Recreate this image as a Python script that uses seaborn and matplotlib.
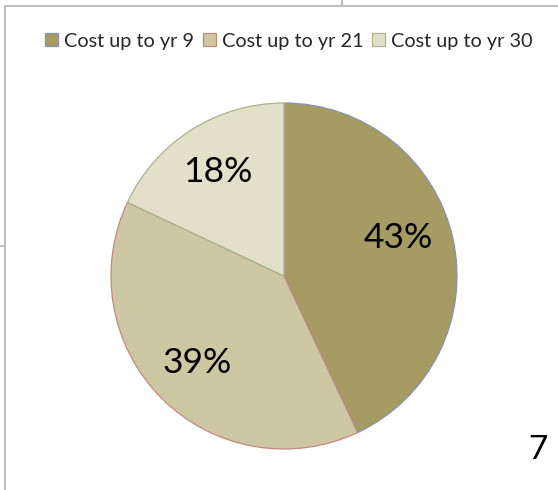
import matplotlib
matplotlib.use("Agg")
import matplotlib.pyplot as plt
from matplotlib.lines import Line2D
import seaborn as sns

# Share of total cost by period
categories = ["Cost up to yr 9", "Cost up to yr 21", "Cost up to yr 30"]
shares = [43, 39, 18]
slice_colors = ["#A59B63", "#CEC7A4", "#E3E0CA"]
edge_colors = ["#8594A8", "#C28A80", "#A8B48C"]
page_number = "7"

sns.set_theme(style="white")
plt.rcParams["font.family"] = ["Lato", "DejaVu Sans"]

W, H = 558, 490
fig = plt.figure(figsize=(W / 100, H / 100), dpi=100)
fig.patch.set_facecolor("white")

# pie placed by pixel centre and radius
cx, cy, r = 284, 276, 173
ax = fig.add_axes([(cx - r) / W, (H - cy - r) / H, 2 * r / W, 2 * r / H])

wedges, texts, autotexts = ax.pie(
    shares,
    colors=slice_colors,
    startangle=90,
    counterclock=False,
    autopct="%1.0f%%",
    pctdistance=0.71,
    radius=1.0,
    wedgeprops=dict(linewidth=0.9),
    textprops=dict(fontsize=25.5, color="black"),
)
for w, ec in zip(wedges, edge_colors):
    w.set_edgecolor(ec)
# the largest label sits a little higher, clear of the slice midline
autotexts[0].set_position((0.66, 0.22))
ax.set_xlim(-1.0, 1.0)
ax.set_ylim(-1.0, 1.0)
ax.set_aspect("equal")
ax.axis("off")

# legend across the top
fig.legend(
    wedges,
    categories,
    loc="center",
    bbox_to_anchor=(289 / W, 1 - 41 / H),
    ncol=3,
    frameon=False,
    fontsize=14.3,
    handlelength=0.65,
    handleheight=0.65,
    handletextpad=0.3,
    columnspacing=0.45,
)

# slide frame edges
line_kw = dict(color="#BFBFBF", linewidth=1.5, transform=fig.transFigure)
fig.add_artist(Line2D([4.5 / W, 1.0], [1 - 6.5 / H, 1 - 6.5 / H], **line_kw))
fig.add_artist(Line2D([4.5 / W, 4.5 / W], [1 - 6.5 / H, 0.0], **line_kw))
fig.add_artist(Line2D([0.0, 4.5 / W], [1 - 246 / H, 1 - 246 / H], **line_kw))
fig.add_artist(Line2D([342 / W, 342 / W], [1.0, 1 - 6.5 / H], **line_kw))

fig.text(538 / W, 1 - 450 / H, page_number, fontsize=24, ha="center", va="center", color="black")

fig.savefig("out.png", dpi=100, facecolor="white")
